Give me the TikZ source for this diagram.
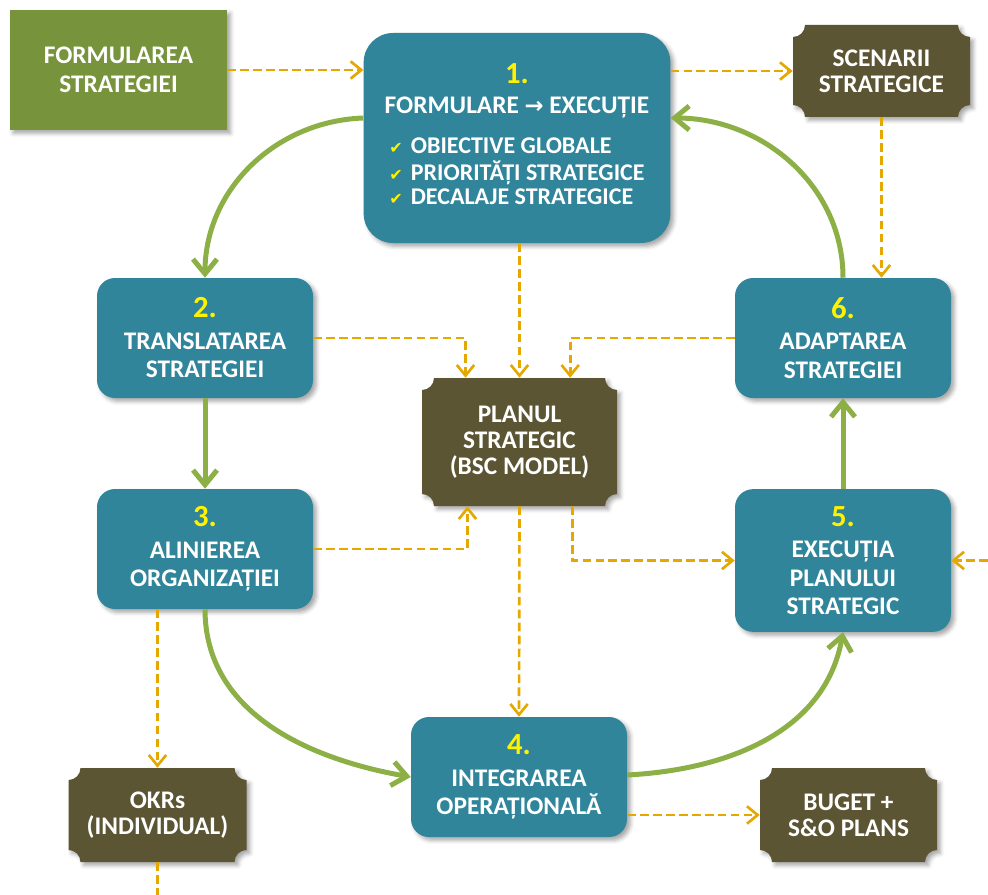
\documentclass[tikz,border=0pt]{standalone}
\usepackage{fontspec}
\setmainfont{Carlito}
\newfontfamily\symfont{DejaVu Sans}
\usetikzlibrary{arrows.meta,shadows.blur}

\definecolor{tealbox}{RGB}{49,133,155}
\definecolor{greenbox}{RGB}{119,147,60}
\definecolor{brownbox}{RGB}{92,85,52}
\definecolor{goldline}{RGB}{228,168,0}
\definecolor{greenline}{RGB}{140,176,70}

\newcommand{\nr}[1]{{\color{yellow}\fontsize{23}{23}\selectfont #1}}
\newcommand{\chk}{{\color{yellow}\symfont\fontsize{12}{12}\selectfont ✔}\hspace{6pt}}

% concave-corner box, drawn first, then its named text node on top
\newcommand{\scrollbox}[6]{%
  \pgfmathsetmacro{\sbl}{#2-#4/2}\pgfmathsetmacro{\sbr}{#2+#4/2}%
  \pgfmathsetmacro{\sbt}{#3-#5/2}\pgfmathsetmacro{\sbb}{#3+#5/2}%
  \fill[scrollfill] (\sbl+12,\sbt) -- (\sbr-12,\sbt)
    .. controls (\sbr-12,\sbt+6.6) and (\sbr-6.6,\sbt+12) .. (\sbr,\sbt+12) -- (\sbr,\sbb-12)
    .. controls (\sbr-6.6,\sbb-12) and (\sbr-12,\sbb-6.6) .. (\sbr-12,\sbb) -- (\sbl+12,\sbb)
    .. controls (\sbl+12,\sbb-6.6) and (\sbl+6.6,\sbb-12) .. (\sbl,\sbb-12) -- (\sbl,\sbt+12)
    .. controls (\sbl+6.6,\sbt+12) and (\sbl+12,\sbt+6.6) .. cycle;
  \node[scrolltext, minimum width=#4*0.75pt, minimum height=#5*0.75pt] (#1) at (#2,#3) {#6};
}

\tikzset{
  txt/.style={text=white, font=\bfseries\fontsize{19}{21.5}\selectfont, align=center, inner sep=0pt},
  shade/.style={blur shadow={shadow xshift=2.5pt, shadow yshift=-2.5pt, shadow blur radius=3pt, shadow opacity=35}},
  box/.style={txt, shade, fill=tealbox, rounded corners=13.5pt, minimum width=162pt, minimum height=90pt},
  greenrect/.style={txt, shade, fill=greenbox, minimum width=163pt, minimum height=90pt},
  scrollfill/.style={fill=brownbox, shade},
  scrolltext/.style={txt, font=\bfseries\fontsize{19}{19.5}\selectfont},
  flux/.style={draw=goldline, line width=2pt, dash pattern=on 6.5pt off 3.2pt,
    -{Straight Barb[length=8pt,width=13pt,line width=2pt]}},
  pas/.style={draw=greenline, line width=3.75pt,
    -{Straight Barb[length=11pt,width=18pt,line width=3.75pt]}}
}

\begin{document}
\begin{tikzpicture}[x=0.75pt,y=-0.75pt]
    \useasboundingbox (0,0) rectangle (988,895);

    % boxes
    \node[greenrect] (formulare) at (118.5,70) {FORMULAREA\\STRATEGIEI};
    \node[box, rounded corners=22pt, minimum width=230pt, minimum height=157.5pt] (pas1) at (517,138) {%
        \nr{1.}\\[1pt]
        FORMULARE {\symfont\fontsize{17}{17}\selectfont →} EXECUȚIE\\[13pt]
        {\fontsize{18}{18}\selectfont\begin{tabular}{@{}l@{}}
        \chk OBIECTIVE GLOBALE\\
        \chk PRIORITĂȚI STRATEGICE\\
        \chk DECALAJE STRATEGICE
        \end{tabular}}};
    \scrollbox{scenarii}{881.5}{71}{177}{92}{SCENARII\\STRATEGICE}
    \node[box] (pas2) at (205,338) {\nr{2.}\\[2pt]TRANSLATAREA\\STRATEGIEI};
    \node[box] (pas6) at (843,338) {\nr{6.}\\[2pt]ADAPTAREA\\STRATEGIEI};
    \scrollbox{plan}{519.5}{442}{195}{128}{PLANUL\\STRATEGIC\\(BSC MODEL)}
    \node[box] (pas3) at (205,549) {\nr{3.}\\[2pt]ALINIEREA\\ORGANIZAȚIEI};
    \node[box, minimum height=107pt] (pas5) at (843,560.5) {\nr{5.}\\[2pt]EXECUȚIA\\PLANULUI\\STRATEGIC};
    \node[box] (pas4) at (519,777) {\nr{4.}\\[2pt]INTEGRAREA\\OPERAȚIONALĂ};
    \scrollbox{okrs}{157.5}{815}{178}{94}{OKRs\\(INDIVIDUAL)}
    \scrollbox{buget}{848.5}{815}{177}{94}{BUGET +\\S\&O PLANS}

    \coordinate (intrare) at (988,560.5);
    \coordinate (iesire) at (157.5,895);

    % dashed links
    \draw[flux] (formulare.east) -- (formulare.east -| pas1.west);
    \draw[flux] (pas1.east |- scenarii.west) -- (scenarii.west);
    \draw[flux] (scenarii.south) -- (scenarii.south |- pas6.north);
    \draw[flux] (pas1.south -| plan.north) -- (plan.north);
    \draw[flux] (pas2.east) -| ([xshift=-40.5pt]plan.north);
    \draw[flux] (pas6.west) -| ([xshift=38pt]plan.north);
    \draw[flux] (pas3.east) -| ([xshift=-39pt]plan.south);
    \draw[flux] ([xshift=39.5pt]plan.south) |- (pas5.west);
    \draw[flux] (plan.south) -- (pas4.north);
    \draw[flux] (okrs.north |- pas3.south) -- (okrs.north);
    \draw[flux, -] (okrs.south) -- (iesire);
    \draw[flux] (intrare) -- (pas5.east);
    \draw[flux] (pas4.east |- buget.west) -- (buget.west);

    % cycle
    \draw[pas] ([yshift=15pt]pas1.west) to[out=182,in=90] (pas2.north);
    \draw[pas] (pas2.south) -- (pas3.north);
    \draw[pas] (pas3.south) to[out=-90,in=170] (pas4.west);
    \draw[pas] ([yshift=1.5pt]pas4.east) to[out=3,in=-100] (pas5.south);
    \draw[pas] (pas5.north) -- (pas6.south);
    \draw[pas] (pas6.north) to[out=90,in=0] ([yshift=15pt]pas1.east);
\end{tikzpicture}
\end{document}
